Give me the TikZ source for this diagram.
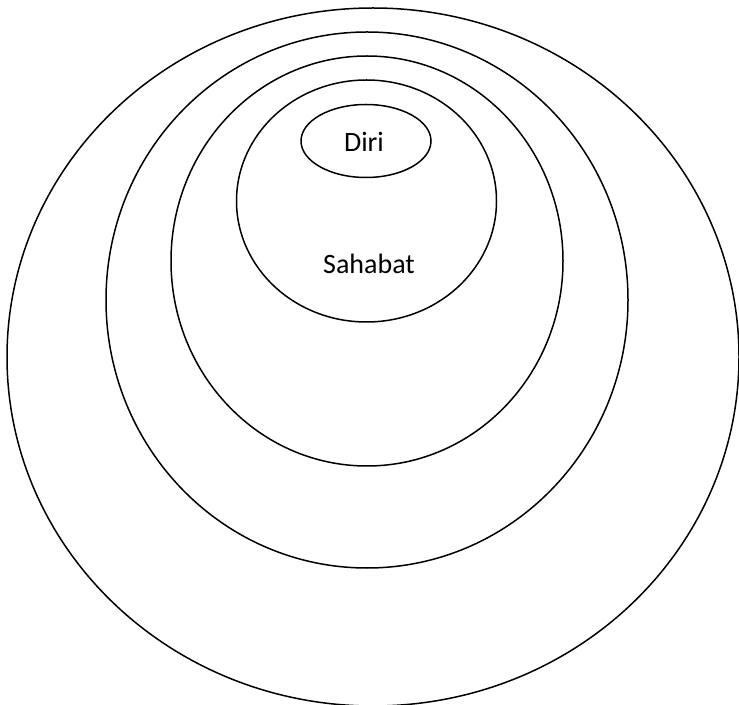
\documentclass[tikz,border=0pt]{standalone}
\usepackage{fontspec}
\setmainfont{Carlito}
\usetikzlibrary{positioning}

\tikzset{ring/.style={draw=black, line width=0.75pt},
         lbl/.style={font=\fontsize{14}{16}\selectfont, inner sep=0pt}}

\begin{document}
\begin{tikzpicture}[x=0.5pt, y=-0.5pt]
    \useasboundingbox (0,0) rectangle (739,705);
    % nested circles, outermost first
    \draw[ring] (373,357) ellipse [x radius=366, y radius=349];
    \draw[ring] (367,300) ellipse [x radius=261, y radius=268];
    \draw[ring] (367,261) ellipse [x radius=196, y radius=205];
    \draw[ring] (366.5,201) ellipse [x radius=130, y radius=121];
    % innermost
    \draw[ring] (366,141) ellipse [x radius=65, y radius=36.5];

    \node[lbl] (diri) at (364,142) {Diri};
    \node[lbl] (sahabat) at (369,264) {Sahabat};
\end{tikzpicture}
\end{document}
